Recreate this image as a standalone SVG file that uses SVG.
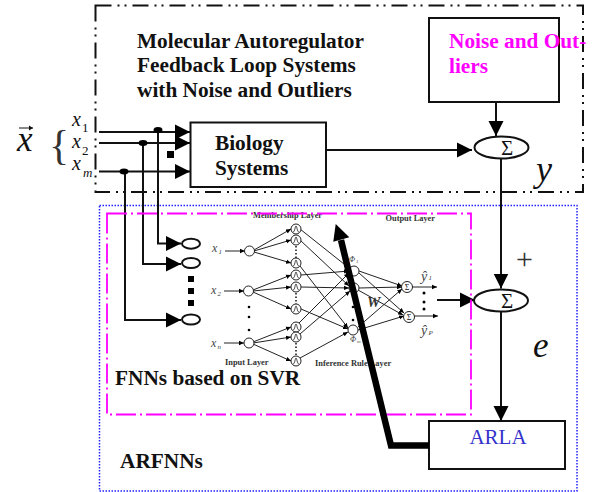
<svg xmlns="http://www.w3.org/2000/svg" width="596" height="492" viewBox="0 0 596 492">
<style>
text{font-family:"Liberation Serif","Times New Roman",serif;fill:#111}
.t{font-size:21.3px;font-weight:bold}
.i{font-style:italic}
.box{fill:#fff;stroke:#111;stroke-width:2}
.w{fill:none;stroke:#111;stroke-width:2}
.sum{fill:#fff;stroke:#111;stroke-width:2}
.n{fill:#fff;stroke:#222;stroke-width:1}
.e{fill:none;stroke:#222;stroke-width:1;marker-end:url(#s)}
.lab{font-size:8.4px;font-weight:bold;fill:#333}
.sub{font-size:7px;font-style:italic;fill:#444}
.nl{font-size:12px;font-style:italic;fill:#444}
</style>
<defs>
<marker id="a" markerUnits="userSpaceOnUse" markerWidth="16" markerHeight="16" refX="15" refY="8" orient="auto"><polygon points="0,0.5 15,8 0,15.5" fill="#000"/></marker>
<marker id="s" markerUnits="userSpaceOnUse" markerWidth="6" markerHeight="6" refX="5" refY="3" orient="auto"><polygon points="0,0.8 5,3 0,5.2" fill="#000"/></marker>
<path id="bell" d="M-3,3 C-1,3 -1,-3 0,-3 C1,-3 1,3 3,3" fill="none" stroke="#222" stroke-width="0.8"/>
</defs>

<rect id="system-frame" x="95.500" y="5.500" width="487.500" height="186.500" fill="none" stroke="#111" stroke-width="2" stroke-dasharray="16 6 2 5 2 6"/>
<rect id="arfnn-frame" x="99.500" y="205.500" width="477.500" height="285.500" fill="none" stroke="#22f" stroke-width="1.500" stroke-dasharray="1.500 1.500"/>

<g id="title"><text class="t" x="137" y="47.500">Molecular Autoregulator</text><text class="t" x="137" y="72">Feedback Loop Systems</text><text class="t" x="137" y="96.500">with Noise and Outliers</text></g>

<g id="connectors">
<path class="w" d="M99,132H190" marker-end="url(#a)"/>
<path class="w" d="M99,143H190" marker-end="url(#a)"/>
<path class="w" d="M99,171.500H190" marker-end="url(#a)"/>
<path class="w" d="M158,130V243.500H181" marker-end="url(#a)"/>
<path class="w" d="M143,143V264H181" marker-end="url(#a)"/>
<path class="w" d="M125,172V320H181" marker-end="url(#a)"/>
<path class="w" d="M326,150H472" marker-end="url(#a)"/>
<path class="w" d="M496,102V136" marker-end="url(#a)"/>
<path class="w" d="M501,158V288.500" marker-end="url(#a)"/>
<path class="w" d="M501,312V421" marker-end="url(#a)"/>
<path class="w" d="M437,300H475" marker-end="url(#a)"/>
</g>
<ellipse cx="158" cy="130" rx="4.500" ry="3" fill="#000"/>
<ellipse cx="143" cy="143" rx="4.500" ry="3" fill="#000"/>
<ellipse cx="124" cy="171.500" rx="4.500" ry="3" fill="#000"/>
<rect x="167" y="151" width="7" height="7" fill="#000"/>

<g id="biology"><rect class="box" x="190.500" y="122.500" width="135.500" height="64.500"/><text class="t" x="215" y="150">Biology</text><text class="t" x="215" y="175">Systems</text></g>
<g id="noise"><rect class="box" x="429" y="18" width="130" height="84"/><text class="t" x="449" y="48" style="fill:#f0f">Noise and Out-</text><text class="t" x="449" y="72.500" style="fill:#f0f">liers</text></g>
<g id="sum-top"><ellipse class="sum" cx="501.500" cy="147.500" rx="27" ry="11"/><text x="507" y="155" text-anchor="middle" font-size="21">Σ</text></g>
<g id="sum-bottom"><ellipse class="sum" cx="501" cy="300.500" rx="27" ry="11"/><text x="507" y="308" text-anchor="middle" font-size="21">Σ</text></g>
<g id="arla"><rect class="box" x="429" y="421" width="136" height="48"/><text x="498" y="444" text-anchor="middle" font-size="21" style="fill:#33c">ARLA</text></g>

<g id="input-labels">
<text class="i" x="17" y="151" font-size="35">x</text>
<path d="M19,128H33" stroke="#111" stroke-width="1" fill="none"/><path d="M29,125.500L33,128L29,130.500" fill="#111"/>
<text x="49" y="159" font-size="42" style="fill:#333">{</text>
<text class="i" x="72" y="126" font-size="20">x</text><text x="82" y="132" font-size="13">1</text>
<text class="i" x="72" y="148" font-size="20">x</text><text x="82" y="155" font-size="13">2</text>
<text class="i" x="72" y="170" font-size="20">x</text><text class="i" x="83" y="177" font-size="13">m</text>
</g>

<g id="fnn-inputs">
<ellipse class="sum" cx="191" cy="243.700" rx="9" ry="5"/>
<ellipse class="sum" cx="191" cy="263" rx="9" ry="5"/>
<ellipse class="sum" cx="191" cy="319.500" rx="9" ry="5"/>
<rect x="188" y="276" width="6" height="6" fill="#000"/><rect x="188" y="288" width="6" height="6" fill="#000"/><rect x="188" y="300" width="6" height="6" fill="#000"/>
</g>

<g id="network-edges">
<path class="e" d="M225,251H245"/><path class="e" d="M224,291H244"/><path class="e" d="M224,343H244"/>
<path class="e" d="M254,250L291,229"/><path class="e" d="M254,251L291,240"/><path class="e" d="M254,252L291,263"/>
<path class="e" d="M253,290L291,275"/><path class="e" d="M253,291L291,287"/><path class="e" d="M253,292L291,309"/>
<path class="e" d="M253,342L291,327"/><path class="e" d="M253,343L291,337"/><path class="e" d="M253,344L291,361"/>
<path class="e" d="M300,229L349,268"/><path class="e" d="M300,240L349,286"/><path class="e" d="M300,266L348,328"/>
<path class="e" d="M301,275L349,271"/><path class="e" d="M301,287L349,288"/><path class="e" d="M301,309L348,329"/>
<path class="e" d="M299,323L349,273"/><path class="e" d="M300,334L350,291"/><path class="e" d="M300,358L348,332"/>
<path class="e" d="M359,271L402,286"/><path class="e" d="M359,273L404,313"/><path class="e" d="M359,288L402,287"/><path class="e" d="M358,290L403,315"/><path class="e" d="M358,327L402,289"/><path class="e" d="M358,330L404,316"/>
<path class="e" d="M412,287H437"/><path class="e" d="M414,316H438"/>
</g>

<g id="network-nodes">
<circle class="n" cx="249.500" cy="251" r="5"/><circle class="n" cx="248.500" cy="291" r="5"/><circle class="n" cx="249" cy="343" r="5"/>
<g id="membership">
<circle class="n" cx="296" cy="229" r="5"/><use href="#bell" x="296" y="229"/>
<circle class="n" cx="296" cy="240" r="5"/><use href="#bell" x="296" y="240"/>
<circle class="n" cx="296" cy="263" r="5"/><use href="#bell" x="296" y="263"/>
<circle class="n" cx="296" cy="275" r="5"/><use href="#bell" x="296" y="275"/>
<circle class="n" cx="296" cy="287" r="5"/><use href="#bell" x="296" y="287"/>
<circle class="n" cx="296" cy="309" r="5"/><use href="#bell" x="296" y="309"/>
<circle class="n" cx="296" cy="327" r="5"/><use href="#bell" x="296" y="327"/>
<circle class="n" cx="296" cy="337" r="5"/><use href="#bell" x="296" y="337"/>
<circle class="n" cx="296" cy="361" r="5"/><use href="#bell" x="296" y="361"/>
</g>
<circle class="n" cx="354" cy="271" r="5"/><circle class="n" cx="354" cy="288" r="5"/><circle class="n" cx="353" cy="330" r="5"/>
<circle class="n" cx="407" cy="287" r="5.500"/><circle class="n" cx="409" cy="317" r="5.500"/>
<text x="407" y="290" text-anchor="middle" font-size="8">Σ</text><text x="409" y="320" text-anchor="middle" font-size="8">Σ</text>
<path d="M296,246V258M296,293V304M296,343V355" stroke="#111" stroke-width="1.500" stroke-dasharray="1.500 2" fill="none"/>
<circle cx="249" cy="307" r="1.300"/><circle cx="249" cy="317" r="1.300"/><circle cx="249" cy="330" r="1.300"/>
<circle cx="353" cy="307" r="1.300"/><circle cx="353" cy="320" r="1.300"/>
<circle cx="424" cy="293" r="1.500"/><circle cx="424" cy="302" r="1.500"/><circle cx="424" cy="309" r="1.500"/>
</g>

<g id="network-labels">
<text class="nl" x="212" y="252">x</text><text class="sub" x="218.500" y="254">1</text>
<text class="nl" x="211" y="294">x</text><text class="sub" x="217.500" y="296">2</text>
<text class="nl" x="211" y="347">x</text><text class="sub" x="217.500" y="349">n</text>
<text class="nl" x="349" y="262" style="font-size:8px">Φ</text><text class="sub" x="356" y="263" style="font-size:5px">1</text>
<text class="nl" x="350" y="342" style="font-size:8px">Φ</text><text class="sub" x="357" y="343" style="font-size:5px">m</text>
<text class="nl" x="421" y="281" style="font-size:14px">ŷ</text><text class="sub" x="428.500" y="280">1</text>
<text class="nl" x="421" y="335" style="font-size:14px">ŷ</text><text class="sub" x="428.500" y="335">P</text>
<text class="lab" x="253" y="218">Membership Layer</text>
<text class="lab" x="385.500" y="221">Output Layer</text>
<text class="lab" x="225" y="365">Input Layer</text>
<text class="lab" x="315" y="365.700">Inference Rule Layer</text>
<text class="i" x="367" y="307" font-size="15" font-weight="bold" style="fill:#333">W</text>
</g>

<rect id="fnn-frame" x="107" y="213.500" width="364" height="201" fill="none" stroke="#f0f" stroke-width="1.800" stroke-dasharray="20 4 2 4"/>

<g id="adapt-arrow">
<path d="M429,445.500H391L341,240" fill="none" stroke="#000" stroke-width="6.500"/>
<polygon points="335.700,224 333.300,241.700 349.300,237.300" fill="#000"/>
</g>

<text class="t" x="115" y="385">FNNs based on SVR</text>
<text class="t" x="120" y="468">ARFNNs</text>
<text x="516" y="269" font-size="30" style="fill:#333">+</text>
<text class="i" x="536" y="181" font-size="36">y</text>
<text class="i" x="533" y="357" font-size="35">e</text>
</svg>
